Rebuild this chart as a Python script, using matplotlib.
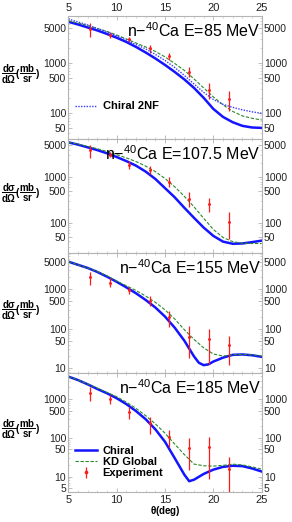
import matplotlib
matplotlib.use("Agg")
import matplotlib.pyplot as plt
from matplotlib.ticker import FixedLocator, FixedFormatter, NullFormatter, LogLocator, MultipleLocator

plt.rcParams['font.family'] = ['Liberation Sans', 'DejaVu Sans']
plt.rcParams['mathtext.fontset'] = 'custom'
plt.rcParams['mathtext.rm'] = 'Liberation Sans'
plt.rcParams['mathtext.it'] = 'Liberation Sans:italic'
plt.rcParams['mathtext.bf'] = 'Liberation Sans:bold'

# ---- data ----
deg = [5, 6, 7, 8, 9, 10, 11, 12, 13, 14, 15, 16, 17, 18, 19, 20, 21, 22, 23, 24, 25]

chiral_85 = [6680, 5890, 5130, 4470, 3800, 3200, 2630, 2090, 1620, 1230, 912, 661, 468, 316, 200, 120, 83, 65, 55, 51, 50]
kd_85 = [7000, 6310, 5620, 4900, 4270, 3630, 3020, 2510, 2090, 1700, 1320, 977, 708, 479, 316, 209, 145, 107, 87, 78, 72]
chiral2nf_85 = [7590, 6610, 5750, 4900, 4170, 3470, 2880, 2340, 1910, 1480, 1120, 813, 562, 380, 257, 186, 148, 129, 115, 105, 98]

chiral_107 = [5750, 5130, 4470, 3890, 3310, 2750, 2240, 1780, 1320, 912, 575, 363, 214, 129, 79, 52, 39, 35, 35.5, 38, 41]
kd_107 = [5750, 5250, 4680, 4170, 3630, 3090, 2630, 2190, 1740, 1320, 933, 617, 380, 224, 126, 72, 48, 39, 36, 35.5, 35.5]

deg_155 = [5, 6, 7, 8, 9, 10, 11, 12, 13, 14, 15, 16, 17, 18, 18.5, 19, 19.5, 20, 21, 22, 23, 24, 25]
chiral_155 = [5010, 4170, 3470, 2750, 2090, 1550, 1120, 794, 537, 347, 204, 107, 50, 20, 13.8, 12, 12.6, 14.8, 18.6, 21.9, 22.4, 21.4, 19.5]
kd_155 = [5010, 4170, 3470, 2820, 2190, 1620, 1230, 933, 676, 468, 302, 178, 95, 54, 33, 23, 20.4, 21.9, 22.4, 21.9, 20.4]

deg_185 = [5, 6, 7, 8, 9, 10, 11, 12, 13, 14, 15, 16, 17, 17.5, 18, 19, 20, 21, 22, 23, 24, 25]
chiral_185 = [3800, 3090, 2400, 1820, 1410, 1050, 741, 490, 302, 166, 79, 30, 11.2, 7.6, 8.3, 11.7, 15.1, 17.8, 19, 18.6, 16.2, 13.5]
kd_185 = [3800, 3090, 2450, 1910, 1480, 1150, 832, 575, 372, 229, 132, 69, 37, 21, 19, 18.6, 19.5, 20.9, 20, 17.8, 15.5]

exp_deg = [7.2, 9.3, 11.3, 13.4, 15.4, 17.5, 19.5, 21.6]
exp_85 = [4700, 3620, 3010, 1960, 1380, 670, 288, 188]
exp_85_lo = [3300, 3200, 2660, 1600, 1150, 517, 188, 109]
exp_85_hi = [6200, 4100, 3350, 2290, 1600, 840, 403, 279]
exp_107 = [3900, 3100, 1820, 1420, 790, 330, 253, 105]
exp_107_lo = [2570, 2690, 1480, 1150, 615, 225, 172, 45]
exp_107_hi = [5000, 3550, 2230, 1780, 1020, 480, 355, 170]
exp_155 = [2000, 1470, 960, 515, 203, 63, 54, 39]
exp_155_lo = [1290, 1170, 760, 380, 113, 18, 13, 12]
exp_155_hi = [2800, 1900, 1170, 680, 290, 117, 98, 66]
exp_185 = [1450, 1000, 455, 236, 107, 54, 57, 15.4]
exp_185_lo = [900, 740, 300, 125, 59, 15, 8.5, 3]
exp_185_hi = [2000, 1270, 630, 350, 160, 97, 107, 31.6]

titles = ["85", "107.5", "155", "185"]
ylims = [(30, 8700), (22, 6800), (7.6, 8300), (4.0, 4700)]
yticks = [[50, 100, 500, 1000, 5000],
          [50, 100, 500, 1000, 5000],
          [10, 50, 100, 500, 1000, 5000],
          [5, 10, 50, 100, 500, 1000]]

BLUE = '#1414ff'
GREEN = '#2a8a2a'
RED = '#ff1a1a'
FRAME = '#b4b4b4'

fig = plt.figure(figsize=(2.92, 5.22), dpi=100)
W, H = 292.0, 522.0
left, right = 68.3 / W, 261.7 / W
edges = [16, 139, 253, 373, 492]

panels = [
    (deg, chiral_85, deg, kd_85, exp_85, exp_85_lo, exp_85_hi),
    (deg, chiral_107, deg, kd_107, exp_107, exp_107_lo, exp_107_hi),
    (deg_155, chiral_155, deg, kd_155, exp_155, exp_155_lo, exp_155_hi),
    (deg_185, chiral_185, deg, kd_185, exp_185, exp_185_lo, exp_185_hi),
]

for i, (xc, yc, xk, yk, ye, ylo, yhi) in enumerate(panels):
    top, bot = edges[i], edges[i + 1]
    ax = fig.add_axes([left, 1 - bot / H, right - left, (bot - top) / H])
    ax.set_yscale('log')
    ax.set_xlim(5, 25)
    ax.set_ylim(*ylims[i])

    l_chiral, = ax.plot(xc, yc, color=BLUE, lw=1.8, label='Chiral')
    l_kd, = ax.plot(xk, yk, color=GREEN, lw=0.8, ls=(0, (3, 1.5)), label='KD Global')
    err = [[y - lo for y, lo in zip(ye, ylo)], [hi - y for y, hi in zip(ye, yhi)]]
    l_exp = ax.errorbar(exp_deg, ye, yerr=err, fmt='o', ms=1.1, color=RED,
                        elinewidth=0.9, capsize=0, label='Experiment')
    if i == 0:
        l_2nf, = ax.plot(deg, chiral2nf_85, color='#3a3aff', lw=1.0, ls=(0, (1, 1)), label='Chiral 2NF')
        ax.legend(handles=[l_2nf], loc='lower left', bbox_to_anchor=(0.0, 0.17),
                  frameon=False, prop={'weight': 'bold', 'size': 8},
                  handlelength=2.0, handletextpad=0.5, borderaxespad=0.2)
    if i == 3:
        ax.legend(handles=[l_chiral, l_kd, l_exp], loc='lower left',
                  bbox_to_anchor=(0.0, 0.06), frameon=False,
                  prop={'weight': 'bold', 'size': 8}, handlelength=2.0,
                  handletextpad=0.5, labelspacing=0.1, borderaxespad=0.2,
                  markerscale=1.5)

    ax.text(0.995, 0.955, 'n\u2212$^{40}$Ca E=' + titles[i] + ' MeV', transform=ax.transAxes,
            ha='right', va='top', fontsize=11.5)

    ax.yaxis.set_major_locator(FixedLocator(yticks[i]))
    ax.yaxis.set_major_formatter(FixedFormatter([str(t) for t in yticks[i]]))
    ax.yaxis.set_minor_locator(LogLocator(base=10, subs=range(2, 10)))
    ax.yaxis.set_minor_formatter(NullFormatter())
    ax.xaxis.set_major_locator(MultipleLocator(5))
    ax.xaxis.set_minor_locator(MultipleLocator(1))

    ax.tick_params(which='both', direction='in', colors=FRAME, labelcolor='#222222',
                   labelsize=7.5, top=True, right=True, labelright=True, pad=1.5)
    ax.tick_params(which='major', length=3, width=0.6)
    ax.tick_params(which='minor', length=1.5, width=0.4)
    ax.tick_params(axis='x', labelbottom=(i == 3), labeltop=(i == 0), pad=2, labelsize=8)
    for s in ax.spines.values():
        s.set_color(FRAME)
        s.set_linewidth(0.8)

    fig.text(20 / W, 1 - ((top + bot) / 2 - 3) / H,
             r'$\mathbf{\dfrac{d\sigma}{d\Omega}(\dfrac{mb}{sr})}$',
             ha='center', va='center', fontsize=7)

fig.text((left + right) / 2, 1 - 511 / H, r'$\mathbf{\theta}$(deg)', ha='center', va='center',
         fontsize=7, fontweight='bold')

fig.savefig('out.png', dpi=100)
